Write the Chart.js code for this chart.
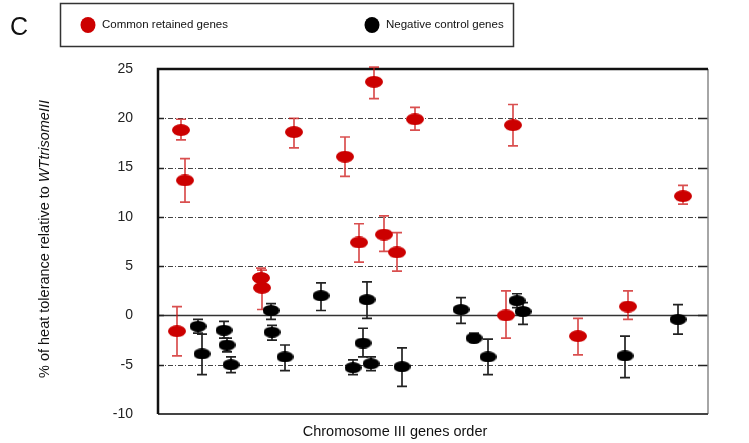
<!DOCTYPE html>
<html>
<head>
<meta charset="utf-8">
<script src="https://cdn.jsdelivr.net/npm/chart.js@4"></script>
<style>
  body { margin: 0; background: #fff; }
  #wrap { width: 749px; height: 443px; }
</style>
</head>
<body>
<div id="wrap"><canvas id="chart" width="749" height="443"></canvas></div>
<script>
// gene position along chromosome III (arbitrary order units), mean and error limits
const retainedPos  = [3.8, 4.6, 5.4, 20.6, 20.8, 27.2, 37.4, 40.2, 43.2, 45.2, 47.8, 51.4, 69.6, 71.0, 84.0, 94.0, 105.0];
const retainedMean = [-1.6, 18.8, 13.7, 3.8, 2.8, 18.6, 16.1, 7.4, 23.7, 8.2, 6.4, 19.9, 0.0, 19.3, -2.1, 0.9, 12.1];
const retainedHigh = [0.9, 19.9, 15.9, 4.8, 4.6, 20.0, 18.1, 9.3, 25.2, 10.1, 8.4, 21.1, 2.5, 21.4, -0.3, 2.5, 13.2];
const retainedLow  = [-4.1, 17.8, 11.5, 2.8, 0.6, 17.0, 14.1, 5.4, 22.0, 6.5, 4.5, 18.8, -2.3, 17.2, -4.0, -0.4, 11.3];

const controlPos  = [8.0, 8.8, 13.2, 13.8, 14.6, 22.6, 22.8, 25.4, 32.6, 39.0, 41.0, 41.8, 42.6, 48.8, 60.6, 63.2, 66.0, 71.8, 73.0, 93.4, 104.0];
const controlMean = [-1.1, -3.9, -1.5, -3.0, -5.0, 0.5, -1.7, -4.2, 2.0, -5.3, -2.8, 1.6, -4.9, -5.2, 0.6, -2.3, -4.2, 1.5, 0.4, -4.1, -0.4];
const controlHigh = [-0.4, -1.9, -0.6, -2.3, -4.2, 1.2, -1.0, -3.0, 3.3, -4.5, -1.3, 3.4, -4.2, -3.3, 1.8, -1.8, -2.4, 2.2, 1.3, -2.1, 1.1];
const controlLow  = [-1.8, -6.0, -2.3, -3.7, -5.8, -0.4, -2.5, -5.6, 0.5, -6.0, -4.2, -0.3, -5.6, -7.2, -0.8, -2.7, -6.0, 0.8, -0.9, -6.3, -1.9];

const yTicks = [-10, -5, 0, 5, 10, 15, 20, 25];

const RED = '#cc0000';
const BLACK = '#000000';
const FONT = "'Liberation Sans', Arial, sans-serif";

// flattened oval marker
function ellipse(color, w, h) {
  const c = document.createElement('canvas');
  c.width = w; c.height = h;
  const g = c.getContext('2d');
  g.fillStyle = color;
  g.beginPath();
  g.ellipse(w / 2, h / 2, w / 2, h / 2, 0, 0, Math.PI * 2);
  g.fill();
  return c;
}

function points(xs, ys) {
  return xs.map((x, i) => ({ x: x, y: ys[i] }));
}

const gridAndFrame = {
  id: 'gridAndFrame',
  beforeDatasetsDraw(chart) {
    const { ctx, chartArea: a, scales: { y } } = chart;
    ctx.save();
    yTicks.forEach(v => {
      if (v === yTicks[0] || v === yTicks[yTicks.length - 1]) return;
      const py = Math.round(y.getPixelForValue(v)) + 0.5;
      ctx.beginPath();
      if (v === 0) {
        ctx.setLineDash([]);
        ctx.strokeStyle = '#333';
        ctx.lineWidth = 1.5;
      } else {
        ctx.setLineDash([5, 2, 1, 2]);
        ctx.strokeStyle = '#444';
        ctx.lineWidth = 1.2;
      }
      ctx.moveTo(a.left, py);
      ctx.lineTo(a.right, py);
      ctx.stroke();
      // short solid ticks inside both sides
      ctx.setLineDash([]);
      ctx.strokeStyle = '#222';
      ctx.lineWidth = 1.5;
      ctx.beginPath();
      ctx.moveTo(a.left, py); ctx.lineTo(a.left + 6, py);
      ctx.moveTo(a.right - 10, py); ctx.lineTo(a.right, py);
      ctx.stroke();
    });
    ctx.setLineDash([]);
    // frame
    ctx.strokeStyle = '#888';
    ctx.lineWidth = 1.5;
    ctx.beginPath();
    ctx.moveTo(a.right, a.top); ctx.lineTo(a.right, a.bottom);
    ctx.stroke();
    ctx.strokeStyle = '#444';
    ctx.lineWidth = 2;
    ctx.beginPath();
    ctx.moveTo(a.left, a.bottom); ctx.lineTo(a.right, a.bottom);
    ctx.stroke();
    ctx.strokeStyle = '#111';
    ctx.lineWidth = 2.5;
    ctx.beginPath();
    ctx.moveTo(a.right, a.top); ctx.lineTo(a.left, a.top); ctx.lineTo(a.left, a.bottom);
    ctx.stroke();
    ctx.restore();
  }
};

const errorBars = {
  id: 'errorBars',
  beforeDatasetsDraw(chart) {
    const { ctx, scales: { x, y } } = chart;
    chart.data.datasets.forEach(ds => {
      ctx.save();
      ctx.strokeStyle = ds.errorColor;
      ctx.lineWidth = 1.7;
      ds.data.forEach((p, i) => {
        const px = x.getPixelForValue(p.x);
        const top = y.getPixelForValue(ds.high[i]);
        const bot = y.getPixelForValue(ds.low[i]);
        ctx.beginPath();
        ctx.moveTo(px, top); ctx.lineTo(px, bot);
        ctx.moveTo(px - 5, top); ctx.lineTo(px + 5, top);
        ctx.moveTo(px - 5, bot); ctx.lineTo(px + 5, bot);
        ctx.stroke();
      });
      ctx.restore();
    });
  }
};

const labels = {
  id: 'labels',
  afterDraw(chart) {
    const { ctx } = chart;
    ctx.save();
    ctx.fillStyle = '#111';

    // panel letter
    ctx.font = '25px ' + FONT;
    ctx.textBaseline = 'middle';
    ctx.textAlign = 'left';
    ctx.fillText('C', 10, 28);

    // legend box
    ctx.strokeStyle = '#333';
    ctx.lineWidth = 1.5;
    ctx.strokeRect(60.5, 3.5, 453, 43);
    ctx.font = '11.5px ' + FONT;
    const slots = [{ x: 88 }, { x: 372 }];
    chart.data.datasets.forEach((ds, i) => {
      ctx.fillStyle = ds.legendColor;
      ctx.beginPath();
      ctx.ellipse(slots[i].x, 25, 7.5, 8, 0, 0, Math.PI * 2);
      ctx.fill();
      ctx.fillStyle = '#111';
      ctx.fillText(ds.label, slots[i].x + 14, 25);
    });

    // x title
    ctx.font = '14.5px ' + FONT;
    ctx.textAlign = 'center';
    ctx.fillText('Chromosome III genes order', 395, 432);

    // y title, the strain name set in italics
    const plain = '% of heat tolerance relative to ';
    const ital = 'WTtrisomeIII';
    ctx.translate(45, 239);
    ctx.rotate(-Math.PI / 2);
    ctx.textAlign = 'left';
    ctx.font = '14.5px ' + FONT;
    const w1 = ctx.measureText(plain).width;
    ctx.font = 'italic 14.5px ' + FONT;
    const w2 = ctx.measureText(ital).width;
    const sx = -(w1 + w2) / 2;
    ctx.font = '14.5px ' + FONT;
    ctx.fillText(plain, sx, 0);
    ctx.font = 'italic 14.5px ' + FONT;
    ctx.fillText(ital, sx + w1, 0);
    ctx.restore();
  }
};

new Chart(document.getElementById('chart'), {
  type: 'scatter',
  data: {
    datasets: [
      {
        label: 'Common retained genes',
        data: points(retainedPos, retainedMean),
        high: retainedHigh,
        low: retainedLow,
        errorColor: 'rgba(204, 20, 20, 0.75)',
        legendColor: RED,
        pointStyle: ellipse(RED, 18, 12),
        backgroundColor: RED,
        order: 2
      },
      {
        label: 'Negative control genes',
        data: points(controlPos, controlMean),
        high: controlHigh,
        low: controlLow,
        errorColor: '#222',
        legendColor: BLACK,
        pointStyle: ellipse(BLACK, 17, 11),
        backgroundColor: BLACK,
        order: 1
      }
    ]
  },
  options: {
    responsive: false,
    animation: false,
    events: [],
    devicePixelRatio: 1,
    layout: { padding: { left: 0, right: 41, top: 69, bottom: 0 } },
    plugins: {
      legend: { display: false },
      tooltip: { enabled: false }
    },
    scales: {
      x: {
        type: 'linear',
        min: 0,
        max: 110,
        afterFit: s => { s.height = 29; },
        grid: { display: false, drawTicks: false },
        border: { display: false },
        ticks: { display: false }
      },
      y: {
        min: -10,
        max: 25,
        afterBuildTicks: s => { s.ticks = yTicks.map(v => ({ value: v })); },
        afterFit: s => { s.width = 158; },
        // tick marks are hidden with the grid; their length only spaces the labels
        grid: { display: false, drawTicks: true, tickLength: 20 },
        border: { display: false },
        ticks: {
          padding: 5,
          color: '#222',
          font: { family: FONT, size: 14 }
        }
      }
    }
  },
  plugins: [gridAndFrame, errorBars, labels]
});
</script>
</body>
</html>
